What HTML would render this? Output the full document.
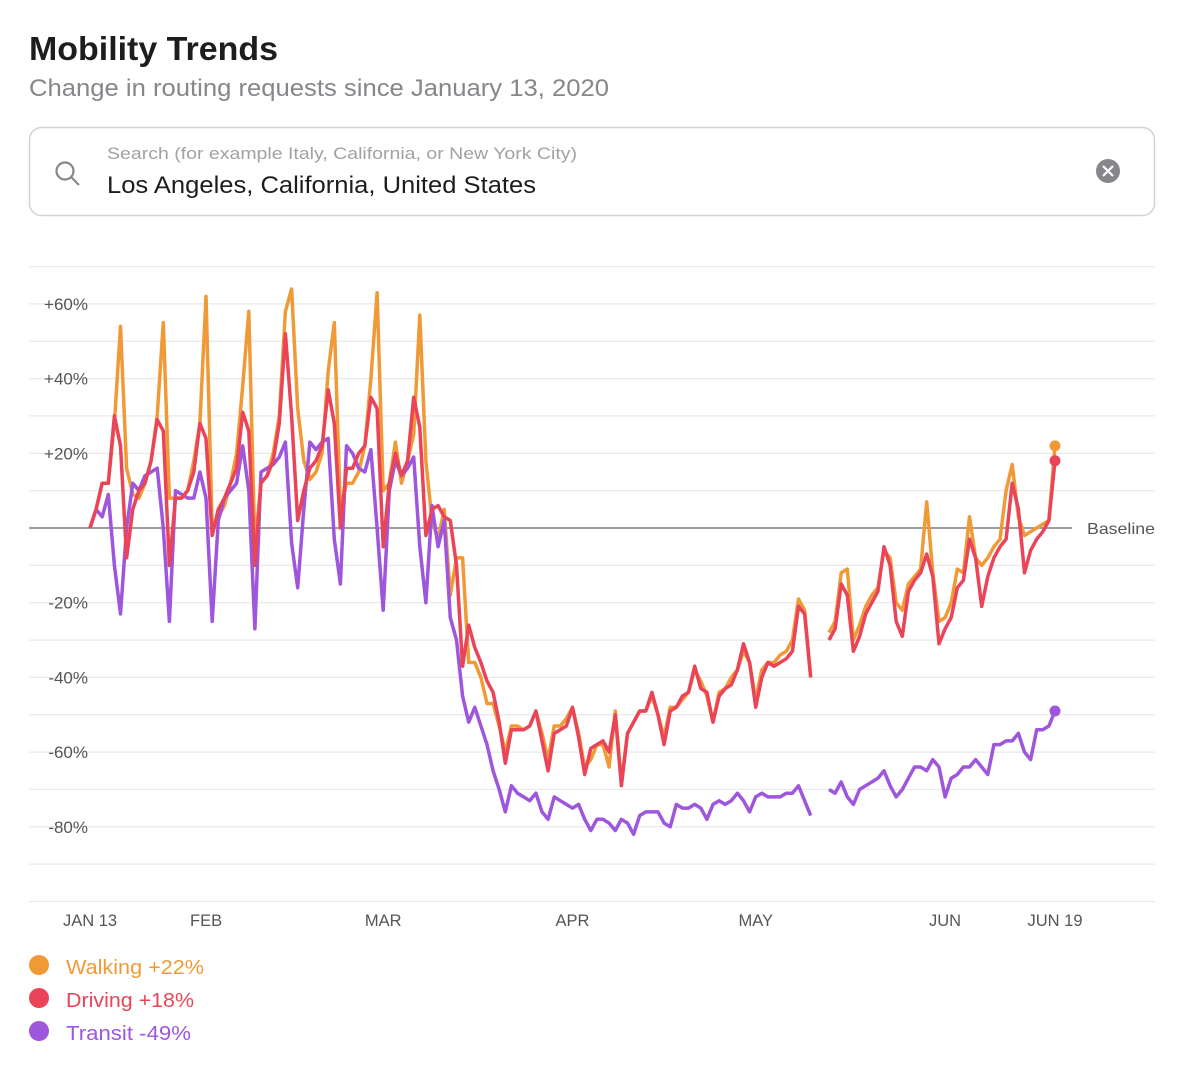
<!DOCTYPE html>
<html><head><meta charset="utf-8"><style>
body{margin:0;background:#fff;width:1200px;height:1083px;overflow:hidden;font-family:"Liberation Sans",sans-serif}
</style></head><body>
<svg width="1200" height="1083" xmlns="http://www.w3.org/2000/svg" id="svg" font-family="Liberation Sans, sans-serif">
<text x="29" y="60" font-size="33" font-weight="bold" fill="#1d1d1f" textLength="249" lengthAdjust="spacingAndGlyphs">Mobility Trends</text>
<text x="29" y="96" font-size="24" fill="#86868b" textLength="580" lengthAdjust="spacingAndGlyphs">Change in routing requests since January 13, 2020</text>
<g>
<rect x="29.5" y="127.5" width="1125" height="88" rx="12" fill="#fff" stroke="#d2d2d7" stroke-width="1.5"/>
<g stroke="#86868b" stroke-width="2.2" fill="none"><circle cx="65" cy="171" r="8.5"/><line x1="71" y1="177" x2="79" y2="185"/></g>
<text x="107" y="159" font-size="17" fill="#a1a1a6" textLength="470" lengthAdjust="spacingAndGlyphs">Search (for example Italy, California, or New York City)</text>
<text x="107" y="193" font-size="24" fill="#1d1d1f" textLength="429" lengthAdjust="spacingAndGlyphs">Los Angeles, California, United States</text>
<g><circle cx="1108" cy="171" r="12" fill="#86868b"/><path d="M1103 166 L1113 176 M1113 166 L1103 176" stroke="#fff" stroke-width="2.2"/></g>
</g>
<g id="grid"></g>
<g id="series"></g>
<g>
<g><circle cx="39" cy="965" r="10" fill="#f09a37"/><text x="66" y="974" font-size="20" fill="#f09a37" textLength="138" lengthAdjust="spacingAndGlyphs">Walking +22%</text></g>
<g><circle cx="39" cy="998" r="10" fill="#ea4459"/><text x="66" y="1007" font-size="20" fill="#ea4459" textLength="128" lengthAdjust="spacingAndGlyphs">Driving +18%</text></g>
<g><circle cx="39" cy="1031" r="10" fill="#9e56dd"/><text x="66" y="1040" font-size="20" fill="#9e56dd" textLength="125" lengthAdjust="spacingAndGlyphs">Transit -49%</text></g>
</g>
</svg>
<script>
const yTicks=[60,40,20,-20,-40,-60,-80];
const yTickLabels=["+60%","+40%","+20%","-20%","-40%","-60%","-80%"];
const xTickDays=[0,19,48,79,109,140,158];
const xTickLabels=["JAN 13","FEB","MAR","APR","MAY","JUN","JUN 19"];
const walking=[0,5,12,12,28,54,16, 9,8,12,18,30,55,8, 8,8,10,18,28,62,0, 3,6,12,20,38,58,-5, 12,14,20,30,58,64,32, 18,13,15,20,42,55,5, 12,12,15,22,40,63,10, 12,23,12,18,25,57,18,
2,-3,5,-18,-8,-8,-36, -36,-40,-47,-47,-53,-60,-53, -53,-54,-53,-49,-55,-62,-53, -53,-51,-48,-55,-64,-62,-58, -58,-64,-49,-68,-55,-52,-49, -49,-45,-50,-56,-48,-48,-46, -44,-38,-41,-45,-52,-44,-43, -40,-38,-33,-36,-46,-38,-36, -36,-34,-33,-30,-19,-22,-40, null,null,
-28,-25,-12,-11,-30,-26,-21,-18,-16,-6,-8,-20,-22,-15,-13,-11,7,-12,-25,-24,-20,-11,-12,3,-8,-10,-8,-5,-3,10,17,3,-2,-1,0,1,2,22];
const driving=[0,5,12,12,30,22,-8, 5,10,12,18,29,26,-10, 8,8,10,15,28,24,-2, 5,8,12,16,31,26,-10, 12,14,18,28,52,30,2, 10,16,18,22,37,28,0, 16,16,20,22,35,32,-5, 12,20,14,18,35,27,-2,
5,6,3,2,-10,-37,-26, -32,-36,-41,-44,-52,-63,-54, -54,-54,-53,-49,-57,-65,-55, -54,-53,-48,-56,-66,-59,-58, -57,-60,-50,-69,-55,-52,-49, -49,-44,-50,-58,-49,-48,-45, -44,-37,-43,-44,-52,-45,-43, -42,-38,-31,-36,-48,-40,-36, -37,-36,-35,-33,-21,-23,-40, null,null,
-30,-27,-15,-18,-33,-29,-23,-20,-17,-5,-10,-25,-29,-17,-14,-12,-7,-13,-31,-27,-24,-16,-14,-3,-8,-21,-13,-8,-5,-3,12,5,-12,-6,-3,-1,2,18];
const transit=[0,5,3,9,-10,-23,0, 12,10,14,15,16,0,-25, 10,9,8,8,15,8,-25, 2,8,10,12,22,10,-27, 15,16,17,19,23,-4,-16, 5,23,21,23,24,-3,-15, 22,20,16,15,21,0,-22, 10,18,14,16,19,-5,-20,
6,-5,2,-24,-30,-45,-52, -48,-53,-58,-65,-70,-76,-69, -71,-72,-73,-71,-76,-78,-72, -73,-74,-75,-74,-78,-81,-78, -78,-79,-81,-78,-79,-82,-77, -76,-76,-76,-79,-80,-74,-75, -75,-74,-75,-78,-74,-73,-74, -73,-71,-73,-76,-72,-71,-72, -72,-72,-71,-71,-69,-73,-77, null,null,
-70,-71,-68,-72,-74,-70,-69,-68,-67,-65,-69,-72,-70,-67,-64,-64,-65,-62,-64,-72,-67,-66,-64,-64,-62,-64,-66,-58,-58,-57,-57,-55,-60,-62,-54,-54,-53,-49];

const NS="http://www.w3.org/2000/svg";
const X=d=>90+d*(965/158);
const Y=v=>528-v*3.735;
function mk(tag,attrs,parent){const e=document.createElementNS(NS,tag);for(const k in attrs)e.setAttribute(k,attrs[k]);parent.appendChild(e);return e;}
const grid=document.getElementById('grid');
for(let v=70;v>=-100;v-=10){
  if(v===0)continue;
  const l=mk('line',{x1:29,x2:1155,y1:Y(v),y2:Y(v),stroke:'#e8e8ed','stroke-width':1.2},grid);
  
  
}
const base=mk('line',{x1:29,x2:1072,y1:Y(0),y2:Y(0),stroke:'#7d7d80','stroke-width':1.5},grid);


const bt=mk('text',{x:1087,y:Y(0)+6,'font-size':16,fill:'#555',textLength:68,lengthAdjust:'spacingAndGlyphs'},grid);bt.textContent='Baseline';


yTicks.forEach((v,i)=>{const t=mk('text',{x:88,y:Y(v)+6,'font-size':17,fill:'#555','text-anchor':'end'},grid);t.textContent=yTickLabels[i];

});
xTickDays.forEach((d,i)=>{const t=mk('text',{x:X(d),y:926,'font-size':16.5,fill:'#555','text-anchor':'middle'},grid);t.textContent=xTickLabels[i];

});
const ser=document.getElementById('series');
function draw(data,color,name){
  let d='',pen=false;
  data.forEach((v,i)=>{if(v===null){pen=false;return;}d+=(pen?'L':'M')+X(i).toFixed(1)+' '+Y(v).toFixed(1);pen=true;});
  const p=mk('path',{d:d,fill:'none',stroke:color,'stroke-width':3.5,'stroke-linejoin':'round'},ser);
  
  
  const n=data.length-1;
  const c=mk('circle',{cx:X(n),cy:Y(data[n]),r:5.5,fill:color},ser);
  
  
}
draw(walking,'#f09a37','walking');
draw(transit,'#9e56dd','transit');
draw(driving,'#ea4459','driving');
</script>
</body></html>
